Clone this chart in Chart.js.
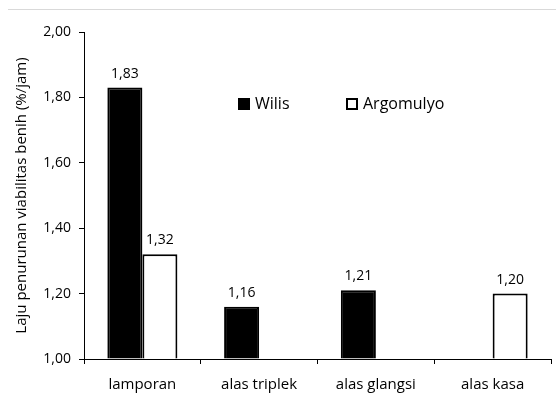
<!DOCTYPE html>
<html>
<head>
<meta charset="utf-8">
<script src="https://cdn.jsdelivr.net/npm/chart.js@4/dist/chart.umd.min.js"></script>
<style>
  html, body { margin: 0; padding: 0; background: #fff; }
  #wrap { width: 556px; height: 409px; }
</style>
</head>
<body>
<div id="wrap"><canvas id="chart" width="556" height="409"></canvas></div>
<script>
// data
const categories = ["lamporan", "alas triplek", "alas glangsi", "alas kasa"];
const wilisValues = [1.83, 1.16, 1.21, null];
const argomulyoValues = [1.32, null, null, 1.20];
const seriesNames = ["Wilis", "Argomulyo"];
const yTickValues = [1.0, 1.2, 1.4, 1.6, 1.8, 2.0];
const yTitle = "Laju penurunan viabilitas benih (%/jam)";

const FONT = "'Open Sans', 'DejaVu Sans', sans-serif";
const fmt = (v) => v.toFixed(2).replace(".", ",");

// background + faint top border line
const frame = {
  id: "frame",
  beforeDraw(chart) {
    const { ctx, width, height } = chart;
    ctx.save();
    ctx.fillStyle = "#fff";
    ctx.fillRect(0, 0, width, height);
    ctx.strokeStyle = "#d9d9d9";
    ctx.lineWidth = 1;
    ctx.beginPath();
    ctx.moveTo(8, 9.5);
    ctx.lineTo(width, 9.5);
    ctx.stroke();
    ctx.restore();
  },
};

// value labels above the bars
const valueLabels = {
  id: "valueLabels",
  afterDatasetsDraw(chart) {
    const { ctx } = chart;
    ctx.save();
    ctx.font = "14px " + FONT;
    ctx.fillStyle = "#000";
    ctx.textAlign = "center";
    ctx.textBaseline = "middle";
    chart.data.datasets.forEach((ds, i) => {
      const meta = chart.getDatasetMeta(i);
      meta.data.forEach((el, j) => {
        const v = ds.data[j];
        if (v == null) return;
        ctx.fillText(fmt(v), el.x, el.y - 14);
      });
    });
    ctx.restore();
  },
};

// legend sitting inside the plot
const innerLegend = {
  id: "innerLegend",
  afterDraw(chart) {
    const { ctx, chartArea } = chart;
    const slots = [chartArea.left + 154, chartArea.left + 262];
    const cy = 104;
    ctx.save();
    ctx.font = "16px " + FONT;
    ctx.textBaseline = "middle";
    chart.data.datasets.forEach((ds, i) => {
      const x = slots[i];
      ctx.fillStyle = ds.backgroundColor;
      ctx.fillRect(x, cy - 6, 12, 12);
      ctx.strokeStyle = "#000";
      ctx.lineWidth = 2;
      ctx.strokeRect(x + 1, cy - 5, 10, 10);
      ctx.fillStyle = "#000";
      ctx.fillText(ds.label, x + 17, cy);
    });
    ctx.restore();
  },
};

new Chart(document.getElementById("chart").getContext("2d"), {
  type: "bar",
  data: {
    labels: categories,
    datasets: [
      {
        label: seriesNames[0],
        data: wilisValues,
        backgroundColor: "#000",
        borderColor: "#000",
        borderWidth: 2,
        base: yTickValues[0],
      },
      {
        label: seriesNames[1],
        data: argomulyoValues,
        backgroundColor: "#fff",
        borderColor: "#000",
        borderWidth: 2,
        base: yTickValues[0],
      },
    ],
  },
  plugins: [frame, valueLabels, innerLegend],
  options: {
    responsive: false,
    devicePixelRatio: 1,
    animation: false,
    layout: { padding: { top: 32, right: 5, left: 0, bottom: 0 } },
    datasets: { bar: { categoryPercentage: 0.6, barPercentage: 1.0 } },
    plugins: { legend: { display: false }, tooltip: { enabled: false } },
    scales: {
      x: {
        offset: true,
        grid: { offset: true, drawOnChartArea: false, drawTicks: true, tickLength: 5, color: "#000" },
        border: { color: "#000", width: 1 },
        ticks: { color: "#000", font: { family: FONT, size: 15 }, padding: 12, maxRotation: 0 },
        afterFit(scale) { scale.height = 50; },
      },
      y: {
        min: yTickValues[0],
        max: yTickValues[yTickValues.length - 1],
        afterBuildTicks(scale) { scale.ticks = yTickValues.map((v) => ({ value: v })); },
        grid: { drawOnChartArea: false, drawTicks: true, tickLength: 5, color: "#000" },
        border: { color: "#000", width: 1 },
        ticks: { color: "#000", font: { family: FONT, size: 14 }, padding: 8, callback: (v) => fmt(v) },
        title: {
          display: true,
          text: yTitle,
          color: "#000",
          font: { family: FONT, size: 15 },
          padding: { top: 13, bottom: 0 },
        },
        afterFit(scale) { scale.width = 84; },
      },
    },
  },
});
</script>
</body>
</html>
